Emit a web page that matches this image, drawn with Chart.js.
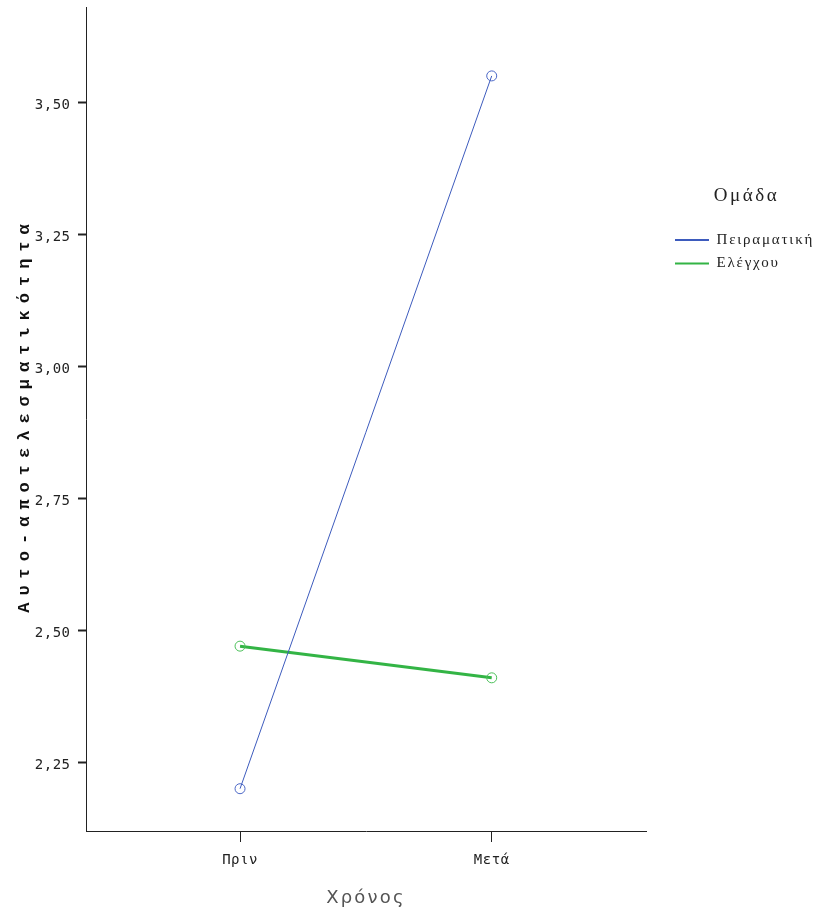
<!DOCTYPE html>
<html>
<head>
<meta charset="utf-8">
<script src="https://cdn.jsdelivr.net/npm/chart.js@4/dist/chart.umd.min.js"></script>
<style>
html, body { margin: 0; padding: 0; background: #ffffff; }
#wrap { width: 817px; height: 916px; position: relative; }
canvas { display: block; }
</style>
</head>
<body>
<div id="wrap"><canvas id="chart" width="817" height="916"></canvas></div>
<script>
// ---- data ----
const categories = ['Πριν', 'Μετά'];
const groupNames = ['Πειραματική', 'Ελέγχου'];
const experimentalValues = [2.20, 3.55];
const controlValues = [2.47, 2.41];
const yTickValues = [2.25, 2.50, 2.75, 3.00, 3.25, 3.50];
const yAxisTitle = 'Αυτο-αποτελεσματικότητα';
const xAxisTitle = 'Χρόνος';
const legendTitle = 'Ομάδα';

// ---- styling / layout ----
const BLUE = '#3d5bbd';
const BLUE_PT = '#4a66c6';
const GREEN = '#33b445';
const GREEN_PT = '#4cc05a';
const AXIS = '#222222';
const LEGEND_W = 150;
const LEGEND_DX = 20.5;
const LEGEND_DY = 179.5;
const LEGEND_TITLE_DX = 5;

const toPoints = vals => categories.map((c, i) => ({ x: i, y: vals[i] }));

function wrapSpacing(obj, method, spacing, dx, dy) {
  const key = '__sp_' + method;
  if (!obj || obj[key]) return;
  const orig = obj[method];
  obj[method] = function () {
    const ctx = this.ctx;
    ctx.save();
    ctx.translate(dx || 0, dy || 0);
    ctx.letterSpacing = spacing;
    try { return orig.apply(this, arguments); }
    finally { ctx.restore(); }
  };
  obj[key] = true;
}

const layoutTweaks = {
  id: 'layoutTweaks',
  beforeLayout(chart) {
    const lg = chart.legend;
    if (lg && !lg.__fitWrapped) {
      const origFit = lg.fit;
      lg.fit = function () { origFit.apply(this, arguments); this.width = LEGEND_W; };
      const origDraw = lg.draw;
      lg.draw = function () {
        if (!this.options.display) return;
        const ctx = this.ctx;
        ctx.save();
        ctx.translate(LEGEND_DX, LEGEND_DY);
        ctx.letterSpacing = '1.8px';
        if (typeof this._draw === 'function') this._draw(); else origDraw.apply(this, arguments);
        ctx.restore();
      };
      const origTitle = lg.drawTitle;
      lg.drawTitle = function () {
        const ctx = this.ctx;
        ctx.save();
        ctx.translate(LEGEND_TITLE_DX, 0);
        ctx.letterSpacing = '2.5px';
        origTitle.apply(this, arguments);
        ctx.restore();
      };
      lg.__fitWrapped = true;
    }
  },
  beforeDraw(chart) {
    const x = chart.scales.x, y = chart.scales.y;
    wrapSpacing(y, 'drawTitle', '7px', 0, -4);
    wrapSpacing(x, 'drawTitle', '2.2px', 0, 0);
    wrapSpacing(y, 'drawLabels', '0.5px', 0, 0);
    wrapSpacing(x, 'drawLabels', '0.5px', 0, 0);
  }
};

new Chart(document.getElementById('chart'), {
  type: 'line',
  data: {
    datasets: [
      {
        label: groupNames[0],
        data: toPoints(experimentalValues),
        borderColor: BLUE,
        backgroundColor: BLUE,
        borderWidth: 1,
        pointRadius: 5,
        pointHoverRadius: 5,
        pointBorderWidth: 1,
        pointBorderColor: BLUE_PT,
        pointBackgroundColor: 'rgba(0,0,0,0)',
        tension: 0,
        fill: false
      },
      {
        label: groupNames[1],
        data: toPoints(controlValues),
        borderColor: GREEN,
        backgroundColor: GREEN,
        borderWidth: 3,
        pointRadius: 5,
        pointHoverRadius: 5,
        pointBorderWidth: 1,
        pointBorderColor: GREEN_PT,
        pointBackgroundColor: 'rgba(0,0,0,0)',
        tension: 0,
        fill: false
      }
    ]
  },
  options: {
    responsive: false,
    animation: false,
    devicePixelRatio: 1,
    layout: { padding: { top: 7, left: 0, bottom: 0, right: 21 } },
    plugins: {
      tooltip: { enabled: false },
      legend: {
        display: true,
        position: 'right',
        align: 'start',
        title: {
          display: true,
          text: legendTitle,
          position: 'center',
          color: '#222222',
          font: { family: '"Liberation Serif", "DejaVu Serif", serif', size: 19 },
          padding: { top: 0, bottom: 14.7 }
        },
        labels: {
          boxWidth: 34,
          boxHeight: 2,
          padding: 8.5,
          color: '#222222',
          font: { family: '"Liberation Serif", "DejaVu Serif", serif', size: 15 },
          generateLabels(chart) {
            return chart.data.datasets.map((ds, i) => ({
              text: ds.label,
              fillStyle: ds.borderColor,
              strokeStyle: ds.borderColor,
              lineWidth: 0,
              hidden: false,
              datasetIndex: i,
              fontColor: '#222222'
            }));
          }
        }
      }
    },
    scales: {
      x: {
        type: 'linear',
        position: 'bottom',
        min: -0.612,
        max: 1.613,
        afterBuildTicks(scale) { scale.ticks = categories.map((c, i) => ({ value: i })); },
        afterFit(scale) { scale.height = 85; scale.paddingLeft = 0; scale.paddingRight = 0; },
        grid: { drawOnChartArea: false, drawTicks: true, tickLength: 11, tickWidth: 1, tickColor: AXIS, color: AXIS },
        border: { display: true, color: AXIS, width: 1 },
        ticks: {
          autoSkip: false,
          maxRotation: 0,
          padding: 10,
          color: '#222222',
          font: { family: '"DejaVu Sans Mono", monospace', size: 14 },
          callback: (v) => categories[Math.round(v)] ?? ''
        },
        title: {
          display: true,
          text: xAxisTitle,
          color: '#555555',
          font: { family: '"DejaVu Sans", sans-serif', size: 18 },
          padding: { top: 0, bottom: 7 }
        }
      },
      y: {
        type: 'linear',
        position: 'left',
        min: 2.1199,
        max: 3.6805,
        afterBuildTicks(scale) { scale.ticks = yTickValues.map(v => ({ value: v })); },
        afterFit(scale) { scale.width = 86; scale.paddingTop = 0; scale.paddingBottom = 0; },
        grid: { drawOnChartArea: false, drawTicks: true, tickLength: 8, tickWidth: 2, tickColor: AXIS, color: AXIS },
        border: { display: true, color: AXIS, width: 1 },
        ticks: {
          padding: 7.5,
          labelOffset: 3,
          color: '#222222',
          font: { family: '"DejaVu Sans Mono", monospace', size: 14 },
          callback: (v) => Number(v).toFixed(2).replace('.', ',')
        },
        title: {
          display: true,
          text: yAxisTitle,
          color: '#111111',
          font: { family: '"Liberation Mono", "DejaVu Sans Mono", monospace', size: 17, weight: 'bold' },
          padding: { top: 15, bottom: 0 }
        }
      }
    }
  },
  plugins: [layoutTweaks]
});
</script>
</body>
</html>
